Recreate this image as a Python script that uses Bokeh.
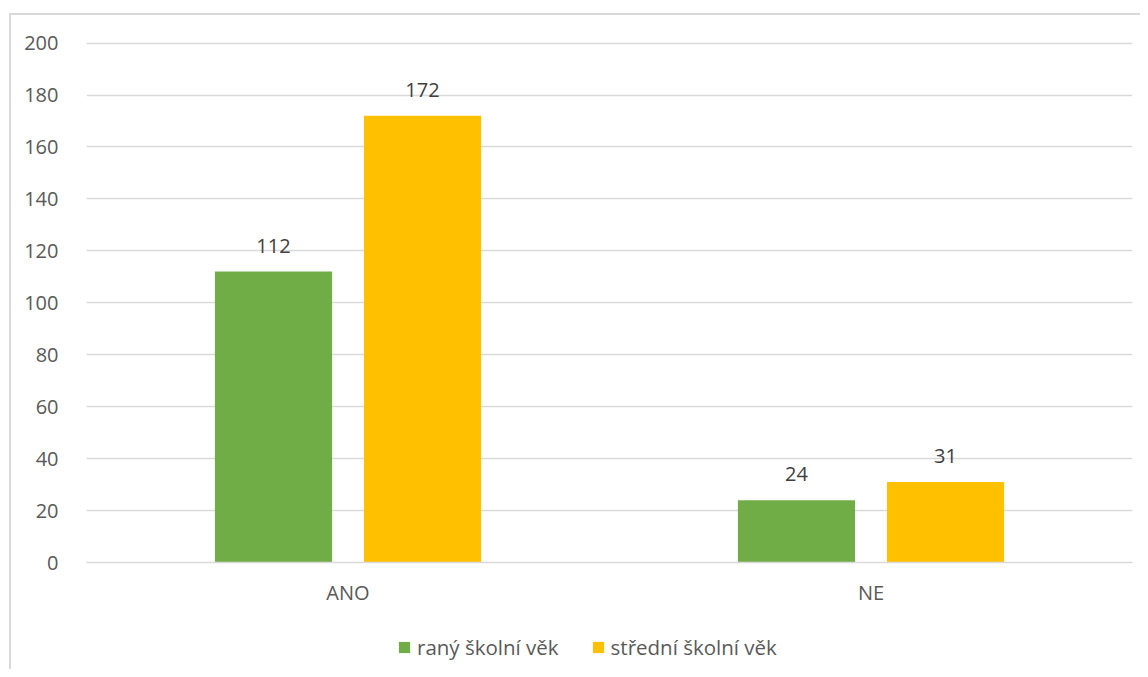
from bokeh.plotting import figure
from bokeh.layouts import column
from bokeh.models import ColumnDataSource, FactorRange, Range1d, Legend, LegendItem, FixedTicker
from bokeh.transform import dodge
from bokeh.core.properties import value
from bokeh.embed import file_html
from bokeh.resources import INLINE

categories = ["ANO", "NE"]
rany = [112, 24]
stredni = [172, 31]
series_names = ["raný školní věk", "střední školní věk"]
y_ticks = [0, 20, 40, 60, 80, 100, 120, 140, 160, 180, 200]

GREEN = "#70AD47"
ORANGE = "#FFC000"
AXIS_TXT = "#595959"
LBL_TXT = "#404040"
GRID = "#D9D9D9"
FONT = "Open Sans"
FS = "20px"

src = ColumnDataSource(dict(
    cat=categories,
    rany=rany,
    stredni=stredni,
    rany_lbl=[str(v) for v in rany],
    stredni_lbl=[str(v) for v in stredni],
))

p = figure(
    x_range=FactorRange(*categories),
    y_range=Range1d(0, 200.6),
    width=1140, height=610,
    min_border_left=86, min_border_top=41, min_border_right=8, min_border_bottom=48,
    output_backend="svg", toolbar_location=None,
)
p.outline_line_color = None
p.background_fill_color = "white"
p.border_fill_alpha = 0

off = 0.1425
w = 0.224
r1 = p.vbar(x=dodge("cat", -off, range=p.x_range), top="rany", width=w, source=src,
            fill_color=GREEN, line_color=None)
r2 = p.vbar(x=dodge("cat", off, range=p.x_range), top="stredni", width=w, source=src,
            fill_color=ORANGE, line_color=None)

for xoff, col in [(-off, "rany"), (off, "stredni")]:
    p.text(x=dodge("cat", xoff, range=p.x_range), y=col, text=col + "_lbl", source=src,
           text_align="center", text_baseline="alphabetic", y_offset=-26,
           text_font=value(FONT), text_font_size=FS, text_color=LBL_TXT)

p.ygrid.grid_line_color = GRID
p.ygrid.grid_line_width = 1.5
p.xgrid.grid_line_color = None

p.yaxis.ticker = FixedTicker(ticks=y_ticks)
p.yaxis.axis_line_color = None
p.yaxis.major_tick_line_color = None
p.yaxis.minor_tick_line_color = None
p.yaxis.major_label_standoff = 22
p.yaxis.major_label_text_font = FONT
p.yaxis.major_label_text_font_size = FS
p.yaxis.major_label_text_color = AXIS_TXT

p.xaxis.axis_line_color = GRID
p.xaxis.axis_line_width = 1.5
p.xaxis.major_tick_line_color = None
p.xaxis.minor_tick_line_color = None
p.xaxis.major_label_standoff = 10
p.xaxis.major_label_text_font = FONT
p.xaxis.major_label_text_font_size = FS
p.xaxis.major_label_text_color = AXIS_TXT

# legend strip below the chart
pl = figure(
    x_range=FactorRange(*categories), y_range=Range1d(0, 1),
    width=1140, height=59,
    min_border_left=0, min_border_right=0, min_border_top=0, min_border_bottom=0,
    x_axis_type=None, y_axis_type=None,
    output_backend="svg", toolbar_location=None,
)
pl.outline_line_color = None
pl.background_fill_alpha = 0
pl.border_fill_alpha = 0
pl.xgrid.visible = False
pl.ygrid.visible = False
l1 = pl.vbar(x="cat", top="rany", width=w, source=src, fill_color=GREEN, line_color=None, visible=False)
l2 = pl.vbar(x="cat", top="stredni", width=w, source=src, fill_color=ORANGE, line_color=None, visible=False)

legend = Legend(
    items=[LegendItem(label=series_names[0], renderers=[l1]),
           LegendItem(label=series_names[1], renderers=[l2])],
    orientation="horizontal", location=(311, 8),
    glyph_width=14, glyph_height=14, label_standoff=6, spacing=32,
    label_text_font=FONT, label_text_font_size="20.5px", label_text_color=AXIS_TXT,
    border_line_color=None, background_fill_alpha=0, padding=0, margin=0,
    click_policy="none", inactive_fill_alpha=0,
)
pl.add_layout(legend, "center")

layout = column(p, pl, spacing=0)
layout.styles = {
    "background-image": "linear-gradient(#D9D9D9, #D9D9D9), linear-gradient(#D9D9D9, #D9D9D9)",
    "background-size": "100% 2px, 2px 100%",
    "background-position": "9px 13px, 9px 13px",
    "background-repeat": "no-repeat",
}

open("out.html", "w").write(file_html(layout, INLINE))
